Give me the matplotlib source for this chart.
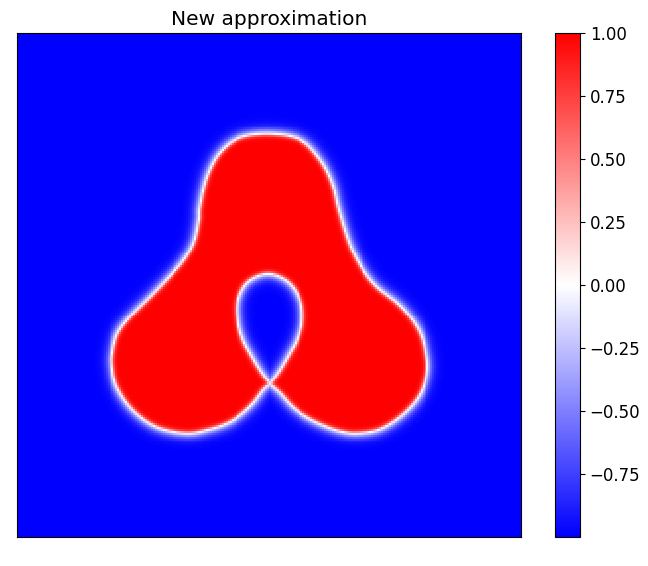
"""Phase-field snapshot: 'New approximation' drawn with the bwr colormap."""

import matplotlib

matplotlib.use("Agg")
import matplotlib.pyplot as plt
import numpy as np
from matplotlib.path import Path

# Boundary of the red phase (image pixel units,
# x to the right, y downward). Both chains start and end at the bottom cusp
# where the two legs touch: first the outer outline, then the teardrop hole.
cusp = (270, 384)
outer_x = [280, 293, 307, 323, 340, 357, 380, 403, 420, 427, 425, 420, 410,
           397, 377, 363, 352, 345, 338, 332, 320, 300, 270, 240, 220, 207,
           200, 199, 194, 184, 170, 151, 130, 118, 113, 112, 117, 133, 157,
           187, 210, 227, 240, 253, 263]
outer_y = [393, 407, 417, 425, 431, 433, 429, 414, 394, 370, 350, 333, 317,
           303, 287, 270, 250, 231, 207, 183, 160, 140, 134, 138, 153, 177,
           207, 220, 242, 260, 276, 296, 317, 333, 350, 365, 387, 410, 427,
           433, 429, 423, 415, 403, 390]
hole_x = [260, 251, 243, 238, 238, 248, 268, 288, 300, 302, 297, 290, 280]
hole_y = [370, 355, 340, 322, 300, 282, 274, 282, 300, 322, 340, 353, 370]

domain = (17, 521, 537, 33)  # left, right, bottom, top of the image
grid_size = 256
inner_width = 2.8   # interface width on the red side (px)
outer_width = 6.5   # interface width on the blue side (px)
color_min, color_max = -0.9999, 1.0


def smooth_chain(chain_x, chain_y, samples=16):
    """Catmull-Rom curve through the traced points, cusp to cusp."""
    pts = np.column_stack([[cusp[0], *chain_x, cusp[0]],
                           [cusp[1], *chain_y, cusp[1]]]).astype(float)
    padded = np.vstack([2 * pts[0] - pts[1], pts, 2 * pts[-1] - pts[-2]])
    out = []
    t = np.linspace(0, 1, samples, endpoint=False)[:, None]
    for i in range(1, len(padded) - 2):
        p0, p1, p2, p3 = padded[i - 1:i + 3]
        out.append(0.5 * ((2 * p1) + (-p0 + p2) * t
                          + (2 * p0 - 5 * p1 + 4 * p2 - p3) * t ** 2
                          + (-p0 + 3 * p1 - 3 * p2 + p3) * t ** 3))
    return np.vstack(out)


def signed_distance(px, py, verts):
    pts = np.column_stack([px.ravel(), py.ravel()])
    ax_, ay_ = verts[:, 0], verts[:, 1]
    bx_, by_ = np.roll(ax_, -1), np.roll(ay_, -1)
    dist = np.full(len(pts), np.inf)
    for x0, y0, x1, y1 in zip(ax_, ay_, bx_, by_):
        dx, dy = x1 - x0, y1 - y0
        seg_len2 = dx * dx + dy * dy
        if seg_len2 == 0:
            continue
        t = ((pts[:, 0] - x0) * dx + (pts[:, 1] - y0) * dy) / seg_len2
        t = np.clip(t, 0, 1)
        d = np.hypot(pts[:, 0] - (x0 + t * dx), pts[:, 1] - (y0 + t * dy))
        dist = np.minimum(dist, d)
    inside = Path(verts).contains_points(pts)
    dist = np.where(inside, dist, -dist)
    return dist.reshape(px.shape)


left, right, bottom, top = domain
cell = (right - left) / grid_size
xs = left + cell * (np.arange(grid_size) + 0.5)
ys = top + cell * (np.arange(grid_size) + 0.5)
grid_x, grid_y = np.meshgrid(xs, ys)

outline = np.vstack([smooth_chain(outer_x, outer_y),
                     smooth_chain(hole_x, hole_y)])
sd = signed_distance(grid_x, grid_y, outline)
phase = np.where(sd > 0, np.tanh(sd / inner_width), np.tanh(sd / outer_width))

fig = plt.figure(figsize=(6.48, 5.66), dpi=100)
ax = fig.add_axes([17 / 648, 29 / 566, 504 / 648, 504 / 566])
cax = fig.add_axes([555 / 648, 29 / 566, 25 / 648, 504 / 566])

im = ax.imshow(phase, cmap="bwr", vmin=color_min, vmax=color_max,
               extent=domain, interpolation="nearest")
ax.set_xticks([])
ax.set_yticks([])
ax.set_title("New approximation", fontsize=14.5)

cbar = fig.colorbar(im, cax=cax)
cbar.set_ticks([-0.75, -0.5, -0.25, 0.0, 0.25, 0.5, 0.75, 1.0])
cbar.ax.tick_params(labelsize=12)

fig.savefig("out.png", dpi=100)
